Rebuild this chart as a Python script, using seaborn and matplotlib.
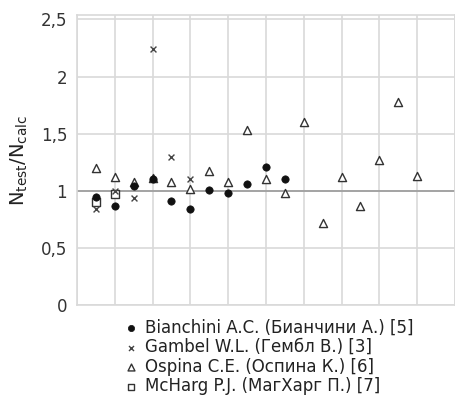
import matplotlib
matplotlib.use("Agg")
import matplotlib.pyplot as plt
import seaborn as sns

# Specimen positions (x) and N_test/N_calc ratios (y) per source
bianchini_x = [1, 2, 3, 4, 5, 6, 7, 8, 9, 10, 11]
bianchini_y = [0.95, 0.87, 1.04, 1.10, 0.91, 0.84, 1.01, 0.98, 1.06, 1.21, 1.10]

gambel_x = [1, 2, 3, 4, 5, 6]
gambel_y = [0.84, 1.00, 0.94, 2.24, 1.30, 1.10]

ospina_x = [1, 2, 3, 4, 5, 6, 7, 8, 9, 10, 11, 12, 13, 14, 15, 16, 17, 18]
ospina_y = [1.20, 1.12, 1.08, 1.11, 1.08, 1.02, 1.17, 1.08, 1.535, 1.10,
            0.985, 1.605, 0.72, 1.12, 0.87, 1.27, 1.78, 1.13]

mcharg_x = [1, 2]
mcharg_y = [0.90, 0.97]

labels = [
    "Bianchini A.C. (Бианчини А.) [5]",
    "Gambel W.L. (Гембл В.) [3]",
    "Ospina C.E. (Оспина К.) [6]",
    "McHarg P.J. (МагХарг П.) [7]",
]
y_ticks = [0, 0.5, 1, 1.5, 2, 2.5]
y_tick_labels = ["0", "0,5", "1", "1,5", "2", "2,5"]

sns.set_style("white")
plt.rcParams["font.family"] = ["DejaVu Sans"]
plt.rcParams["mathtext.default"] = "regular"

fig = plt.figure(figsize=(4.55, 4.03), dpi=100)
ax = fig.add_axes([0.169, 0.243, 0.831, 0.72])

grid_c = "#d9d9d9"
for s in ax.spines.values():
    s.set_color(grid_c)
    s.set_linewidth(1.2)

# squares and triangles go under the filled circles
sns.scatterplot(x=mcharg_x, y=mcharg_y, marker="s", s=34, facecolor="white",
                edgecolor="#333333", linewidth=1.0, ax=ax, label=labels[3], zorder=3)
sns.scatterplot(x=ospina_x, y=ospina_y, marker="^", s=34, facecolor="white",
                edgecolor="#333333", linewidth=1.0, ax=ax, label=labels[2], zorder=3)
sns.scatterplot(x=gambel_x, y=gambel_y, marker="x", s=18, color="#444444",
                linewidth=1.0, ax=ax, label=labels[1], zorder=4)
sns.scatterplot(x=bianchini_x, y=bianchini_y, marker="o", s=28, color="#111111",
                edgecolor="#111111", linewidth=0.5, ax=ax, label=labels[0], zorder=5)

ax.set_xlim(0, 19.9)
ax.set_ylim(0, 2.54)
ax.set_xticks(range(0, 21, 2))
ax.set_xticklabels([])
ax.set_yticks(y_ticks)
ax.set_yticklabels(y_tick_labels, fontsize=12, color="#333333")
ax.tick_params(axis="both", length=0, pad=7)
ax.grid(True, color=grid_c, linewidth=1.2)
ax.set_axisbelow(True)
ax.axhline(1, color="#9a9a9a", linewidth=1.2, zorder=2)

ax.set_ylabel("N$_{test}$/N$_{calc}$", fontsize=14, color="#222222", labelpad=8)

handles, lbls = ax.get_legend_handles_labels()
order = [lbls.index(l) for l in labels]
leg = fig.legend([handles[i] for i in order], [lbls[i] for i in order],
                 loc="upper left", bbox_to_anchor=(0.27, 0.21), frameon=False,
                 fontsize=12, handletextpad=0.34, labelspacing=0.1,
                 handlelength=1.0, markerscale=0.85, borderaxespad=0, borderpad=0)
for t in leg.get_texts():
    t.set_color("#222222")
ax.get_legend().remove()

fig.savefig("out.png", dpi=100)
